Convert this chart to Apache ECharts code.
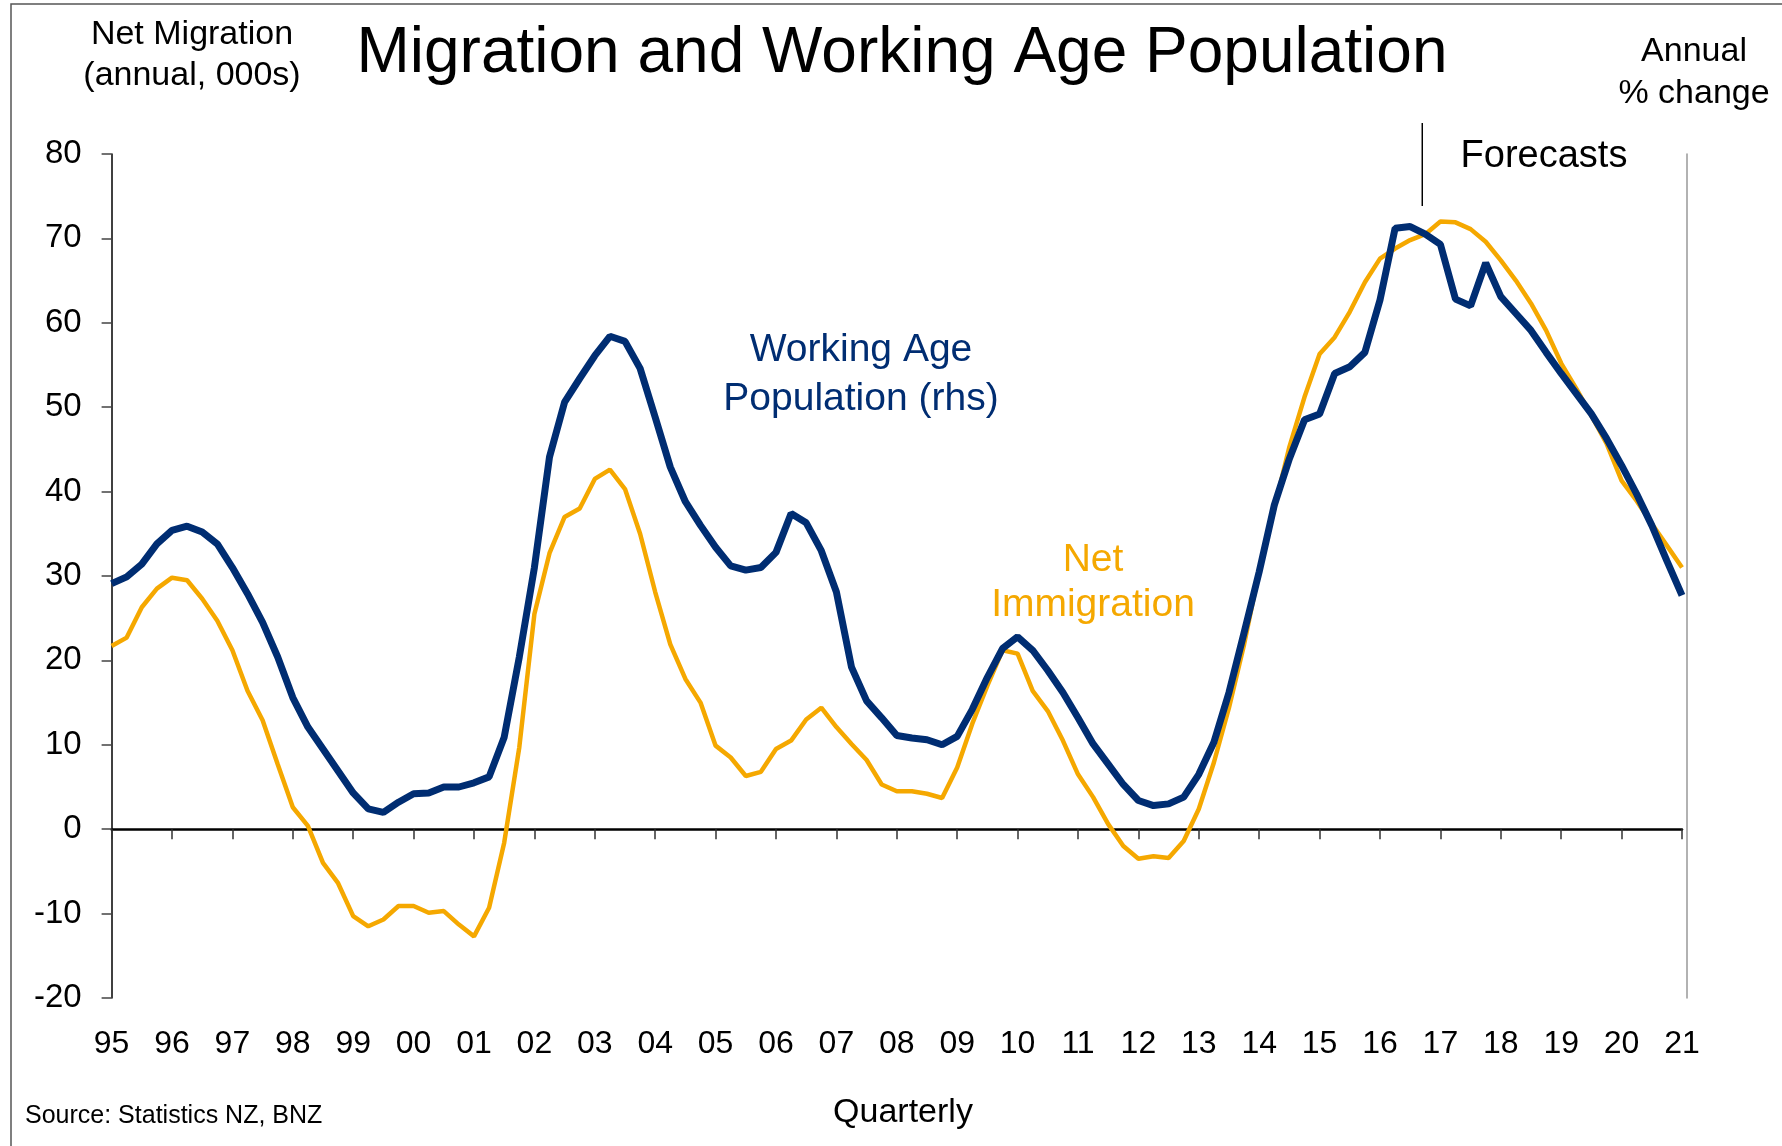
<!DOCTYPE html>
<html>
<head>
<meta charset="utf-8">
<title>Migration and Working Age Population</title>
<script src="https://cdn.jsdelivr.net/npm/echarts@6/dist/echarts.min.js"></script>
<style>
  html, body { margin: 0; padding: 0; background: #fff; }
  #main { width: 1782px; height: 1146px; }
</style>
</head>
<body>
<div id="main"></div>
<script>
// year tick labels, one per year, quarterly data starts at the first one
var yearLabels = ['95', '96', '97', '98', '99', '00', '01', '02', '03', '04', '05', '06', '07',
    '08', '09', '10', '11', '12', '13', '14', '15', '16', '17', '18', '19', '20', '21'];

// net immigration, annual, 000s (lhs)
var netMigration = [
    21.7, 22.7, 26.3, 28.5, 29.8, 29.5, 27.3, 24.7,
    21.2, 16.4, 12.9, 7.7, 2.6, 0.4, -4.0, -6.4,
    -10.3, -11.5, -10.7, -9.1, -9.1, -9.9, -9.7, -11.3,
    -12.7, -9.3, -1.6, 9.7, 25.5, 32.7, 37.0, 38.0,
    41.5, 42.6, 40.3, 35.0, 28.1, 21.9, 17.8, 15.0,
    9.9, 8.5, 6.3, 6.8, 9.5, 10.5, 13.0, 14.4,
    12.1, 10.1, 8.2, 5.3, 4.5, 4.5, 4.2, 3.7,
    7.3, 12.5, 17.0, 21.2, 20.8, 16.4, 14.0, 10.5,
    6.5, 3.8, 0.6, -2.0, -3.5, -3.2, -3.4, -1.4,
    2.4, 7.9, 14.4, 21.9, 30.6, 38.0, 45.3, 51.2,
    56.3, 58.3, 61.3, 64.8, 67.6, 68.8, 69.8, 70.5,
    72.0, 71.9, 71.1, 69.6, 67.4, 65.0, 62.3, 59.1,
    55.2, 52.2, 49.0, 45.7, 41.3, 38.9, 36.2, 33.6,
    31.0
];

// working age population (rhs, read on the same grid)
var workingAge = [
    29.1, 29.9, 31.4, 33.8, 35.4, 35.9, 35.2, 33.8,
    31.0, 27.9, 24.5, 20.4, 15.6, 12.1, 9.5, 6.9,
    4.3, 2.4, 2.0, 3.2, 4.2, 4.3, 5.0, 5.0,
    5.5, 6.2, 10.9, 20.4, 31.0, 44.1, 50.6, 53.4,
    56.1, 58.4, 57.8, 54.6, 48.8, 42.9, 38.8, 36.0,
    33.4, 31.2, 30.7, 31.0, 32.8, 37.4, 36.3, 33.0,
    28.1, 19.2, 15.2, 13.2, 11.1, 10.8, 10.6, 10.0,
    11.0, 14.2, 18.0, 21.4, 22.8, 21.2, 18.8, 16.2,
    13.2, 10.1, 7.7, 5.3, 3.4, 2.8, 3.0, 3.8,
    6.5, 10.3, 16.2, 23.3, 30.5, 38.4, 43.9, 48.5,
    49.2, 54.0, 54.8, 56.5, 62.7, 71.2, 71.4, 70.5,
    69.3, 62.8, 62.0, 67.1, 63.1, 61.1, 59.1, 56.5,
    54.0, 51.6, 49.2, 46.3, 43.1, 39.7, 36.0, 31.8,
    27.7
];

// forecasts start part way between these quarters
var forecastFrom = 86;
var forecastFrac = 0.8;

var quarters = [];
for (var y = 0; y < yearLabels.length; y++) {
    for (var q = 1; q <= 4; q++) {
        if (y == yearLabels.length - 1 && q > 1) break;
        quarters.push(yearLabels[y] + ' Q' + q);
    }
}

var FONT = '"Liberation Sans", Arial, sans-serif';
var NAVY = '#002D72';
var GOLD = '#F5A800';

var chart = echarts.init(document.getElementById('main'));

chart.setOption({
    animation: false,
    backgroundColor: '#fff',
    textStyle: {fontFamily: FONT},
    grid: {left: 111.6, right: 100, top: 154, bottom: 148},
    xAxis: [
        {
            type: 'category',
            data: quarters,
            boundaryGap: false,
            axisLine: {onZero: true, lineStyle: {color: '#000', width: 2.5}},
            axisTick: {interval: 3, length: 10, lineStyle: {color: '#333', width: 1.5}},
            axisLabel: {show: false},
            splitLine: {show: false}
        },
        {
            type: 'category',
            data: quarters,
            position: 'bottom',
            boundaryGap: false,
            axisLine: {show: false, onZero: false},
            axisTick: {show: false},
            axisLabel: {
                interval: 3,
                margin: 30,
                color: '#000',
                fontSize: 32,
                fontFamily: FONT,
                formatter: function (v, i) {
                    return yearLabels[i / 4];
                }
            },
            splitLine: {show: false}
        }
    ],
    yAxis: [
        {
            type: 'value',
            min: -20,
            max: 80,
            interval: 10,
            axisLine: {show: true, lineStyle: {color: '#000', width: 1.5}},
            axisTick: {show: true, length: 10, lineStyle: {color: '#444', width: 1.5}},
            axisLabel: {color: '#000', fontSize: 33, margin: 30, fontFamily: FONT},
            splitLine: {show: false}
        },
        {
            type: 'value',
            position: 'right',
            offset: 5,
            min: -20,
            max: 80,
            interval: 10,
            axisLine: {show: true, lineStyle: {color: '#999', width: 1.5}},
            axisTick: {show: false},
            axisLabel: {show: false},
            splitLine: {show: false}
        }
    ],
    series: [
        {
            name: 'Net Immigration',
            type: 'line',
            xAxisIndex: 0,
            yAxisIndex: 0,
            data: netMigration,
            symbol: 'none',
            lineStyle: {color: GOLD, width: 4.5},
            z: 2
        },
        {
            name: 'Working Age Population (rhs)',
            type: 'line',
            xAxisIndex: 0,
            yAxisIndex: 1,
            data: workingAge,
            symbol: 'none',
            lineStyle: {color: NAVY, width: 7},
            z: 3
        }
    ]
});

// forecast divider, placed from the axis scale
var x0 = chart.convertToPixel({xAxisIndex: 0}, quarters[forecastFrom]);
var x1 = chart.convertToPixel({xAxisIndex: 0}, quarters[forecastFrom + 1]);
var fx = x0 + (x1 - x0) * forecastFrac;

chart.setOption({
    graphic: [
        {
            type: 'rect',
            shape: {x: 11, y: 4, width: 1800, height: 1200},
            style: {fill: 'none', stroke: '#555', lineWidth: 1.5},
            silent: true
        },
        {
            type: 'text',
            x: 902, y: 54,
            style: {
                text: 'Migration and Working Age Population',
                font: '64px ' + FONT, fill: '#000',
                textAlign: 'center', textVerticalAlign: 'middle'
            }
        },
        {
            type: 'text',
            x: 192, y: 55,
            style: {
                text: 'Net Migration\n(annual, 000s)',
                font: '34px ' + FONT, fill: '#000', lineHeight: 41,
                textAlign: 'center', textVerticalAlign: 'middle'
            }
        },
        {
            type: 'text',
            x: 1694, y: 73,
            style: {
                text: 'Annual\n% change',
                font: '34px ' + FONT, fill: '#000', lineHeight: 42,
                textAlign: 'center', textVerticalAlign: 'middle'
            }
        },
        {
            type: 'line',
            shape: {x1: fx, y1: 123, x2: fx, y2: 206},
            style: {stroke: '#000', lineWidth: 1.5}
        },
        {
            type: 'text',
            x: 1544, y: 157,
            style: {
                text: 'Forecasts',
                font: '38px ' + FONT, fill: '#000',
                textAlign: 'center', textVerticalAlign: 'middle'
            }
        },
        {
            type: 'text',
            x: 861, y: 375,
            style: {
                text: 'Working Age\nPopulation (rhs)',
                font: '39px ' + FONT, fill: NAVY, lineHeight: 49,
                textAlign: 'center', textVerticalAlign: 'middle'
            }
        },
        {
            type: 'text',
            x: 1093, y: 583,
            style: {
                text: 'Net\nImmigration',
                font: '39px ' + FONT, fill: GOLD, lineHeight: 45,
                textAlign: 'center', textVerticalAlign: 'middle'
            }
        },
        {
            type: 'text',
            x: 903, y: 1113,
            style: {
                text: 'Quarterly',
                font: '34px ' + FONT, fill: '#000',
                textAlign: 'center', textVerticalAlign: 'middle'
            }
        },
        {
            type: 'text',
            x: 25, y: 1116,
            style: {
                text: 'Source: Statistics NZ, BNZ',
                font: '25px ' + FONT, fill: '#000',
                textAlign: 'left', textVerticalAlign: 'middle'
            }
        }
    ]
});
</script>
</body>
</html>
